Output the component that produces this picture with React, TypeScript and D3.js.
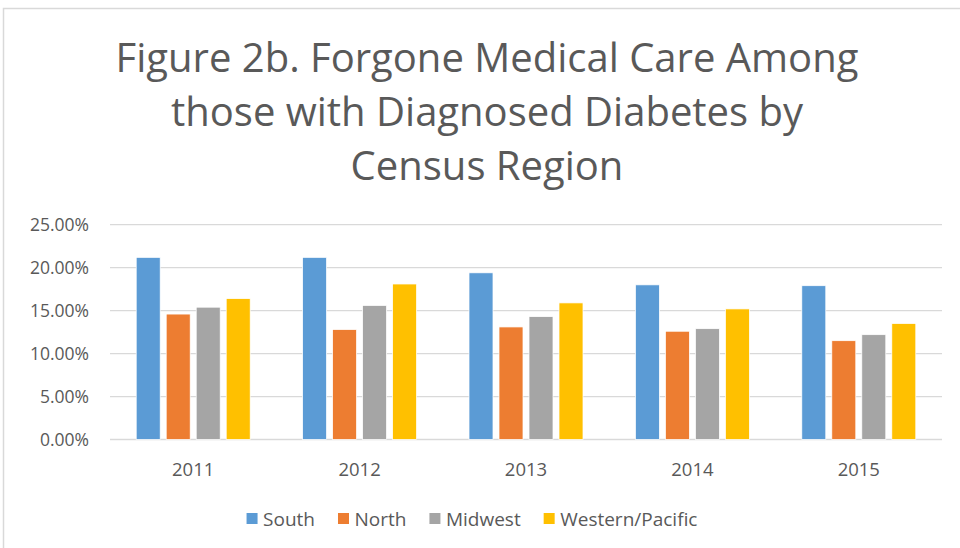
import React, { useEffect, useRef } from "react";
import * as d3 from "d3";

const years = ["2011", "2012", "2013", "2014", "2015"];
const regions = ["South", "North", "Midwest", "Western/Pacific"];
const south = [21.2, 21.2, 19.4, 18.0, 17.9];
const north = [14.6, 12.8, 13.1, 12.6, 11.5];
const midwest = [15.4, 15.6, 14.3, 12.9, 12.2];
const western = [16.4, 18.1, 15.9, 15.2, 13.5];
const colors = ["#5B9BD5", "#ED7D31", "#A5A5A5", "#FFC000"];
const yTicks = [0, 5, 10, 15, 20, 25];
const titleLines = [
  "Figure 2b. Forgone Medical Care Among",
  "those with Diagnosed Diabetes by",
  "Census Region",
];

const W = 960;
const H = 548;
const FONT = "'Open Sans', sans-serif";
const TEXT = "#595959";

export default function App() {
  const ref = useRef<SVGSVGElement | null>(null);

  useEffect(() => {
    const svg = d3.select(ref.current);
    svg.selectAll("*").remove();

    // chart border (top/left visible)
    svg
      .append("rect")
      .attr("x", 3.5)
      .attr("y", 8.5)
      .attr("width", W + 20)
      .attr("height", H + 20)
      .attr("fill", "#fff")
      .attr("stroke", "#D9D9D9")
      .attr("stroke-width", 1.5);

    // title
    const title = svg
      .append("text")
      .attr("font-family", FONT)
      .attr("font-size", 40)
      .attr("fill", TEXT)
      .attr("text-anchor", "middle");
    titleLines.forEach((l, i) => {
      title
        .append("tspan")
        .attr("x", 487)
        .attr("y", 72 + i * 54)
        .text(l);
    });

    const left = 110;
    const right = 942;
    const y = d3.scaleLinear().domain([0, 25]).range([439.5, 224.7]);
    const x0 = d3.scaleBand<string>().domain(years).range([left, right]).padding(0);
    const groupW = 120;
    const x1 = d3
      .scaleBand<string>()
      .domain(regions)
      .range([0, groupW])
      .paddingInner(0.2)
      .paddingOuter(0.1);

    const series = [south, north, midwest, western];

    // gridlines
    svg
      .append("g")
      .selectAll("line")
      .data(yTicks)
      .join("line")
      .attr("x1", left)
      .attr("x2", right)
      .attr("y1", (d) => y(d))
      .attr("y2", (d) => y(d))
      .attr("stroke", "#D9D9D9")
      .attr("stroke-width", 1.3);

    // y labels
    svg
      .append("g")
      .selectAll("text")
      .data(yTicks)
      .join("text")
      .attr("x", 89)
      .attr("y", (d) => y(d) + 6.5)
      .attr("text-anchor", "end")
      .attr("font-family", FONT)
      .attr("font-size", 17.5)
      .attr("fill", TEXT)
      .text((d) => d3.format(".2f")(d) + "%");

    // bars
    const groups = svg
      .append("g")
      .selectAll("g")
      .data(years)
      .join("g")
      .attr(
        "transform",
        (d) => `translate(${(x0(d) as number) + (x0.bandwidth() - groupW) / 2},0)`
      );
    groups
      .selectAll("rect")
      .data((d, i) => regions.map((r, k) => ({ r, k, v: series[k][i] })))
      .join("rect")
      .attr("x", (d) => x1(d.r) as number)
      .attr("width", x1.bandwidth())
      .attr("y", (d) => y(d.v))
      .attr("height", (d) => y(0) - y(d.v))
      .attr("fill", (d) => colors[d.k])
      .attr("stroke", "#fff")
      .attr("stroke-width", 0.75);

    // x labels
    svg
      .append("g")
      .selectAll("text")
      .data(years)
      .join("text")
      .attr("x", (d) => (x0(d) as number) + x0.bandwidth() / 2)
      .attr("y", 476)
      .attr("text-anchor", "middle")
      .attr("font-family", FONT)
      .attr("font-size", 18.5)
      .attr("fill", TEXT)
      .text((d) => d);

    // legend
    const lg = svg.append("g");
    const items = lg
      .selectAll("g")
      .data(regions)
      .join("g");
    items
      .append("rect")
      .attr("width", 11)
      .attr("height", 11)
      .attr("y", 513)
      .attr("fill", (d, i) => colors[i]);
    items
      .append("text")
      .attr("x", 16.5)
      .attr("y", 526)
      .attr("font-family", FONT)
      .attr("font-size", 19)
      .attr("fill", TEXT)
      .text((d) => d);
    let cx = 0;
    const gap = 23;
    const widths: number[] = [];
    items.each(function () {
      const t = d3.select(this).select("text").node() as SVGTextElement;
      widths.push(16.5 + t.getComputedTextLength());
    });
    const total = widths.reduce((a, b) => a + b, 0) + gap * (widths.length - 1);
    const startX = 472 - total / 2;
    items.attr("transform", (d, i) => {
      const tx = startX + cx;
      cx += widths[i] + gap;
      return `translate(${tx},0)`;
    });
  }, []);

  return (
    <svg
      ref={ref}
      width={W}
      height={H}
      style={{ display: "block", position: "absolute", left: 0, top: 0 }}
    />
  );
}
